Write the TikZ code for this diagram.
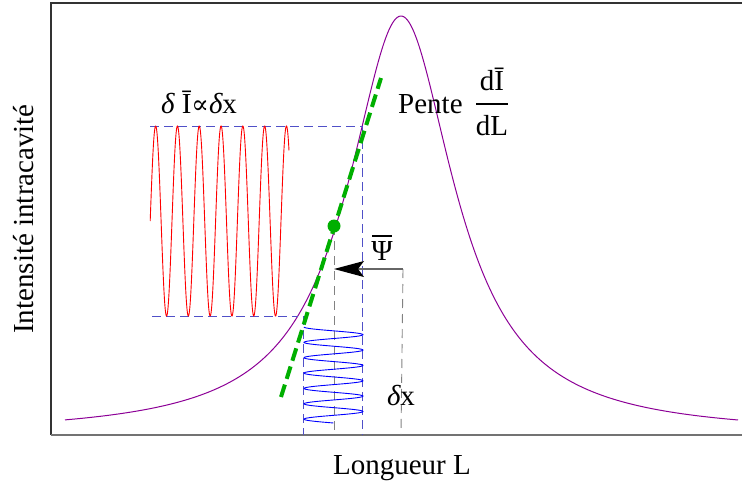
\documentclass[tikz,border=0pt]{standalone}
\usepackage{fontspec}
\setmainfont{Liberation Serif}
\newfontfamily\symfam{DejaVu Serif}
\usetikzlibrary{arrows.meta}
\definecolor{curvepurple}{RGB}{140,0,150}
\definecolor{slopegreen}{RGB}{0,175,0}
\definecolor{dashblue}{RGB}{80,80,200}
\definecolor{dashgray}{RGB}{130,130,130}
\tikzset{
  lbl/.style={inner sep=0pt, font=\fontsize{29}{34}\selectfont},
  bluedash/.style={dashblue, line width=0.8pt, dash pattern=on 9pt off 5pt},
  graydash/.style={dashgray, line width=0.9pt, dash pattern=on 9pt off 6pt},
  axisline/.style={line width=2pt},
}
\begin{document}
\begin{tikzpicture}[x=1pt,y=-1pt]
\useasboundingbox (0,0) rectangle (742,485);
% axes frame
\coordinate (tl) at (51,3);
\coordinate (tr) at (742,3);
\coordinate (bl) at (51,435);
\coordinate (br) at (742,435);
\draw[axisline, black!80] (bl) -- (tl) -- (tr);
\draw[axisline, black!55] (bl) -- (br);
% resonance curve
\draw[curvepurple, line width=1pt] plot[domain=65:738, samples=400] (\x, {435-419/(1+((\x-401)/65)^2)});
% key coordinates
\coordinate (redtopL) at (150,126);
\coordinate (redtopR) at (362,126);
\coordinate (redbotL) at (152,316);
\coordinate (redbotR) at (298,316);
\coordinate (vA) at (303,316);
\coordinate (vAb) at (303,435);
\coordinate (vBb) at (362,435);
\coordinate (dot) at (334,226);
\coordinate (dotb) at (334,432);
\coordinate (psiR) at (403,269);
\coordinate (psiL) at (334,269);
\coordinate (psiRb) at (401,435);
% dashed guides
\draw[bluedash] (redtopL) -- (redtopR);
\draw[bluedash] (redbotL) -- (redbotR);
\draw[bluedash] (redtopR) -- (vBb);
\draw[bluedash] (vA) -- (vAb);
\draw[graydash] (dot) -- (dotb);
\draw[graydash] (psiR) -- (psiRb);
% red oscillation
\draw[red, line width=0.9pt] plot[domain=150.2:289, samples=500] (\x, {221-95*sin(((\x-150.2)/21.8)*360)});
% blue oscillation
\draw[blue, line width=0.9pt] plot[domain=327:423, samples=300] ({333.5-29.5*cos(((\x-327)/15.36)*360)}, \x);
% slope line
\coordinate (gA) at (281,397);
\coordinate (gB) at (381,78);
\draw[slopegreen, line width=4pt, dash pattern=on 13pt off 6pt] (gA) -- (gB);
\fill[slopegreen] (dot) circle (6.5pt);
% arrow
\draw[black!60, line width=1.1pt, -{Stealth[length=30pt,width=16pt,inset=6pt,fill=black,color=black]}] (psiR) -- (psiL);
% labels
\node[lbl, anchor=base] (dI) at (199,113) {{\itshape δ} Ī{\symfam\fontsize{26}{30}\selectfont ∝}{\itshape δ}x};
\node[lbl, anchor=base west] (pente) at (398,113) {Pente};
\node[lbl, anchor=base] (num) at (492,90) {dĪ};
\node[lbl, anchor=base] (den) at (492,135) {dL};
\coordinate (fracL) at (476,104);
\coordinate (fracR) at (508,104);
\draw[line width=1.1pt] (fracL) -- (fracR);
\node[lbl, anchor=base] (psi) at (382,260) {Ψ};
\coordinate (psibarL) at (372,236);
\coordinate (psibarR) at (392,236);
\draw[line width=1.1pt] (psibarL) -- (psibarR);
\node[lbl, anchor=base] (dx) at (401,405) {{\itshape δ}x};
\node[lbl, anchor=base] (xlab) at (402,474) {Longueur L};
\node[lbl, anchor=base, rotate=90] (ylab) at (33,219) {Intensité intracavité};
\end{tikzpicture}
\end{document}
